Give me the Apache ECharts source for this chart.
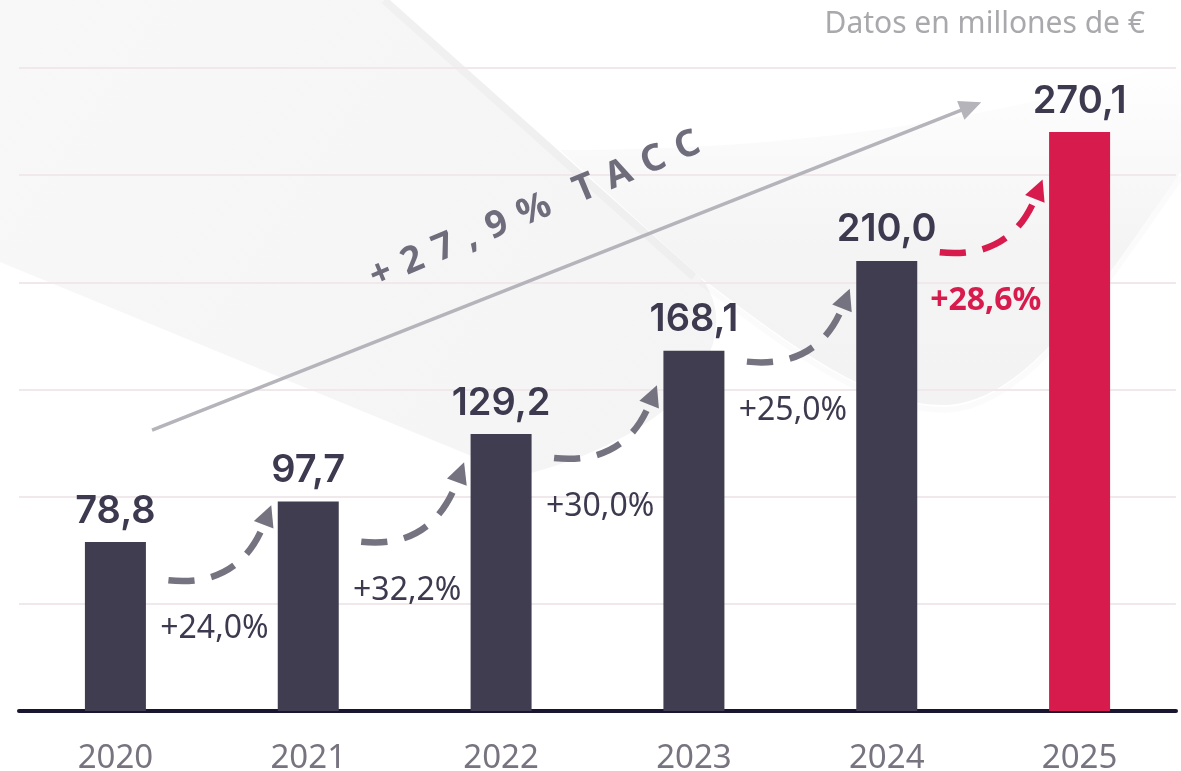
<!DOCTYPE html>
<html>
<head>
<meta charset="utf-8">
<script src="https://cdn.jsdelivr.net/npm/echarts@6/dist/echarts.min.js"></script>
<style>html,body{margin:0;padding:0;background:#fff}#c{width:1181px;height:771px}</style>
</head>
<body>
<div id="c"></div>
<script>
// ---- data ----
const years = ['2020', '2021', '2022', '2023', '2024', '2025'];
const revenue = [78.8, 97.7, 129.2, 168.1, 210.0, 270.1];
const growthLabels = ['+24,0%', '+32,2%', '+30,0%', '+25,0%', '+28,6%'];
const arrowStartValues = [61, 79, 118, 163, 214];
const arrowEndValues = [96, 116, 152, 197, 248];
const taccText = '+27,9% TACC';
const taccFrom = [0.19, 131];
const taccTo = [4.49, 284];
const yTicks = [0, 50, 100, 150, 200, 250, 300];
const unitNote = 'Datos en millones de €';

// ---- styles ----
const barColor = '#403d50';
const highlightColor = '#d81b4d';
const arrowColor = '#75737f';
const textDark = '#3d3a4f';
const FONT = '"Noto Sans", "Open Sans", sans-serif';
const VALUE_FONT = 'Inter, "Noto Sans", sans-serif';

const chart = echarts.init(document.getElementById('c'), null, {renderer: 'canvas'});

function spaced(s) {
  const sep = '\u2005\u200A';
  return s.split(' ').map(w => w.split('').join(sep)).join('\u2002\u2005');
}

const arrowData = growthLabels.map((g, i) => [i, arrowStartValues[i], arrowEndValues[i]]);

function arrowItem(params, api) {
  const i = api.value(0);
  const p0 = api.coord([i, api.value(1)]);
  const p1 = api.coord([i + 1, api.value(2)]);
  const sx = p0[0] + 53, sy = p0[1];
  const ex = p1[0] - 37, ey = p1[1];
  const dx = ex - sx, dy = sy - ey;
  const cx = sx + 0.69 * dx, cy = sy + 0.1 * dy;
  let ux = ex - cx, uy = ey - cy;
  const L = Math.hypot(ux, uy); ux /= L; uy /= L;
  const head = 21, half = 10.5;
  const bx = ex - ux * head, by = ey - uy * head;
  const last = i === growthLabels.length - 1;
  const color = last ? highlightColor : arrowColor;
  return {
    type: 'group',
    children: [
      {type: 'bezierCurve', shape: {x1: sx, y1: sy, x2: bx + ux * 2, y2: by + uy * 2, cpx1: cx, cpy1: cy},
        style: {stroke: color, lineWidth: 6.5, lineDash: [26, 17], fill: null}},
      {type: 'polygon', shape: {points: [[ex, ey], [bx - uy * half, by + ux * half], [bx + uy * half, by - ux * half]]},
        style: {fill: color}},
      {type: 'text', x: sx + 46, y: sy + 49,
        style: {text: growthLabels[i], fill: last ? highlightColor : textDark, font: (last ? '700 ' : '400 ') + '32px ' + FONT,
          align: 'center', verticalAlign: 'middle'}}
    ]
  };
}

function taccItem(params, api) {
  const a = api.coord([api.value(0), api.value(1)]);
  const b = api.coord([api.value(2), api.value(3)]);
  const dx = b[0] - a[0], dy = b[1] - a[1];
  const L = Math.hypot(dx, dy); const ux = dx / L, uy = dy / L;
  const head = 22, half = 10;
  const bx = b[0] - ux * head, by = b[1] - uy * head;
  const nx = uy, ny = -ux;
  const t = 0.49, off = 64;
  const tx = a[0] + dx * t + nx * off, ty = a[1] + dy * t + ny * off;
  return {
    type: 'group',
    children: [
      {type: 'line', shape: {x1: a[0], y1: a[1], x2: bx + ux * 2, y2: by + uy * 2}, style: {stroke: '#b5b4ba', lineWidth: 3.5}},
      {type: 'polygon', shape: {points: [[b[0], b[1]], [bx - uy * half, by + ux * half], [bx + uy * half, by - ux * half]]}, style: {fill: '#b5b4ba'}},
      {type: 'text', x: tx, y: ty, rotation: Math.atan2(-dy, dx) + 0.02,
        style: {text: spaced(taccText), fill: '#6f6d7b', font: '700 37px ' + FONT, align: 'center', verticalAlign: 'middle'}}
    ]
  };
}

function backgroundItem() {
  return {
    type: 'group',
    children: [
      {type: 'path', shape: {pathData: 'M0 0 L390 0 L700 277 C745 330 700 430 520 476 L0 262 Z'},
        style: {fill: new echarts.graphic.LinearGradient(0, 0, 1, 1, [{offset: 0, color: '#f8f8f9'}, {offset: 1, color: '#f4f4f5'}])}},
      {type: 'path', shape: {pathData: 'M560 150 C800 150 1000 120 1181 60 L1181 172 C1100 285 1030 402 945 405 C870 405 800 352 700 277 Z'},
        style: {fill: new echarts.graphic.LinearGradient(0, 0, 0, 1, [{offset: 0, color: 'rgba(244,244,245,0)'}, {offset: 0.55, color: 'rgba(244,244,245,1)'}, {offset: 1, color: '#f3f3f4'}])}},
      {type: 'path', shape: {pathData: 'M384 0 L694 277'},
        style: {stroke: 'rgba(0,0,0,0.025)', lineWidth: 8, fill: null, shadowBlur: 10, shadowColor: 'rgba(0,0,0,0.05)'}},
      {type: 'path', shape: {pathData: 'M700 282 C800 357 870 410 945 410 C1030 407 1100 290 1181 177'},
        style: {stroke: 'rgba(0,0,0,0.015)', lineWidth: 6, fill: null, shadowBlur: 14, shadowColor: 'rgba(0,0,0,0.04)'}}
    ]
  };
}

const option = {
  backgroundColor: '#ffffff',
  animation: false,
  grid: {left: 19, right: 5, top: 68, bottom: 60, containLabel: false, outerBoundsMode: 'none'},
  graphic: [
    {type: 'text', right: 36, top: 9, z: 10,
      style: {text: unitNote, fill: '#a9a8ac', font: '400 30px ' + FONT}}
  ],
  xAxis: [
    {type: 'category', data: years, boundaryGap: true,
      axisLine: {show: true, lineStyle: {color: '#1a1530', width: 4}},
      axisTick: {show: false},
      axisLabel: {color: '#77737f', fontSize: 33, fontFamily: FONT, margin: 31}},
    {type: 'value', min: -0.5, max: 5.5, show: false}
  ],
  yAxis: {type: 'value', min: yTicks[0], max: yTicks[yTicks.length - 1], interval: yTicks[1] - yTicks[0],
    axisLabel: {show: false}, axisLine: {show: false}, axisTick: {show: false},
    splitLine: {lineStyle: {color: '#f1e8eb', width: 2}}},
  series: [
    {type: 'custom', xAxisIndex: 1, yAxisIndex: 0, data: [[0, 0]], renderItem: backgroundItem, clip: false, z: -5, silent: true,
      encode: {x: 0, y: 1}},
    {type: 'bar', data: revenue.map((v, i) => ({value: v, itemStyle: {color: i === revenue.length - 1 ? highlightColor : barColor}})),
      barWidth: 61, z: 3,
      label: {show: true, position: 'top', distance: 12, color: textDark, fontSize: 38, fontWeight: 600, fontFamily: VALUE_FONT,
        formatter: p => p.value.toFixed(1).replace('.', ',')}},
    {type: 'custom', xAxisIndex: 0, yAxisIndex: 0, data: arrowData, renderItem: arrowItem, clip: false, z: 4,
      encode: {x: 0, y: 1}},
    {type: 'custom', xAxisIndex: 1, yAxisIndex: 0, data: [[taccFrom[0], taccFrom[1], taccTo[0], taccTo[1]]],
      renderItem: taccItem, clip: false, z: 4, encode: {x: 0, y: 1}}
  ]
};
chart.setOption(option);
</script>
</body>
</html>
